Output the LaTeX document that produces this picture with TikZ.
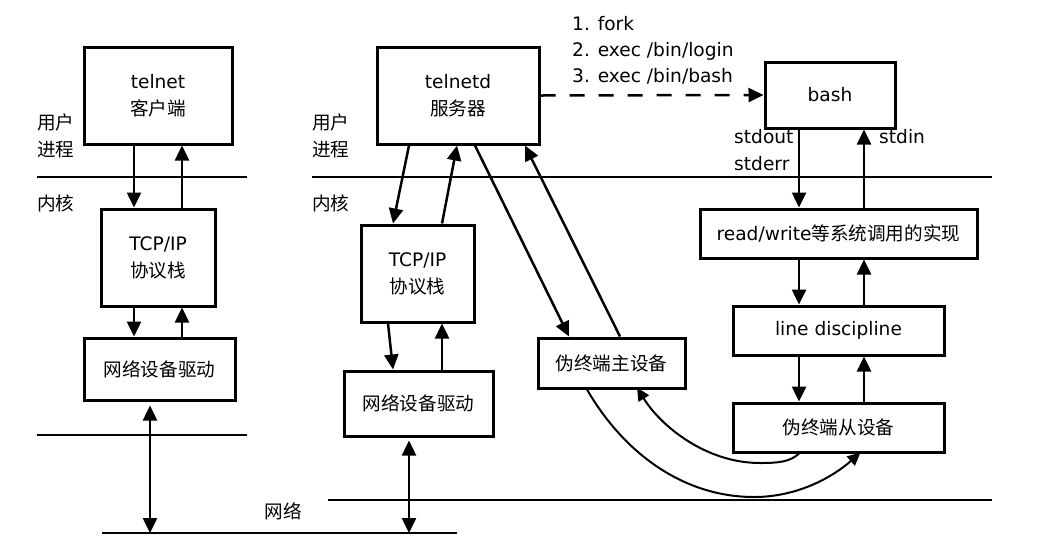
\documentclass[tikz,border=0pt]{standalone}
\usepackage{fontspec}
\setmainfont{DejaVu Sans}
\newfontfamily\cjk{Noto Sans CJK SC}
\usetikzlibrary{arrows.meta,positioning}

\begin{document}
\begin{tikzpicture}[x=1pt, y=-1pt, font=\fontsize{18.6}{27}\selectfont]
    \tikzstyle{box} = [rectangle, draw, line width=3pt, inner sep=0pt, align=center]
    \tikzstyle{lbl} = [inner sep=0pt, align=left, anchor=west]
    \tikzstyle{arr} = [-{Triangle[length=15pt, width=14pt]}, line width=2.5pt]
    \tikzstyle{darr} = [{Triangle[length=15pt, width=14pt]}-{Triangle[length=15pt, width=14pt]}, line width=2.5pt]
    \tikzstyle{curvearr} = [-{Triangle[length=13pt, width=12pt]}, line width=2pt]
    \tikzstyle{layer} = [line width=2pt]

    \useasboundingbox (0,0) rectangle (1047,550);

    % Client side
    \node[box, minimum width=148pt, minimum height=97pt] (client) at (158,95.5) {telnet\\{\cjk 客户端}};
    \node[box, minimum width=114pt, minimum height=97pt] (tcpL) at (158,257.5) {TCP/IP\\{\cjk 协议栈}};
    \node[box, minimum width=151pt, minimum height=62pt] (nicL) at (159.5,369) {\cjk 网络设备驱动};

    % Server side
    \node[box, minimum width=162pt, minimum height=97pt] (telnetd) at (458,95.5) {telnetd\\{\cjk 服务器}};
    \node[box, minimum width=113pt, minimum height=97pt] (tcpR) at (417.5,273.5) {TCP/IP\\{\cjk 协议栈}};
    \node[box, minimum width=149pt, minimum height=65pt] (nicR) at (418.5,403.5) {\cjk 网络设备驱动};
    \node[box, minimum width=147pt, minimum height=50pt] (ptm) at (611.5,363) {\cjk 伪终端主设备};

    % Shell side
    \node[box, minimum width=130pt, minimum height=66pt] (bash) at (830,95) {bash};
    \node[box, minimum width=277pt, minimum height=49pt] (rw) at (838.5,233.5) {read/write{\cjk 等系统调用的实现}};
    \node[box, minimum width=211pt, minimum height=49pt] (ldisc) at (838.5,330.5) {line discipline};
    \node[box, minimum width=211pt, minimum height=49pt] (pts) at (838.5,427.5) {\cjk 伪终端从设备};

    % Labels
    \node[lbl] (userL) at (37,135.5) {{\cjk 用户}\\{\cjk 进程}};
    \node[lbl] (kernL) at (37,203) {\cjk 内核};
    \node[lbl] (userR) at (312,135.5) {{\cjk 用户}\\{\cjk 进程}};
    \node[lbl] (kernR) at (312,203) {\cjk 内核};
    \node[inner sep=0pt] (net) at (283,511) {\cjk 网络};
    \node[lbl, font=\fontsize{18.6}{26}\selectfont] (steps) at (572,50) {1. fork\\2. exec /bin/login\\3. exec /bin/bash};
    \node[lbl] (stdout) at (734,150) {stdout\\stderr};
    \node[lbl] (stdin) at (879,137) {stdin};

    % Layers
    \coordinate (netL) at (150,533);
    \coordinate (netR) at (409,533);
    \draw[layer] (37,177) -- (247,177);
    \draw[layer] (312,177) -- (992,177);
    \draw[layer] (37,435) -- (247,435);
    \draw[layer] (328,500) -- (992,500);
    \draw[layer] (102,533) -- (457,533);

    % Connections
    \draw[arr] (134,0 |- client.south) -- (134,0 |- tcpL.north);
    \draw[arr] (182,0 |- tcpL.north) -- (182,0 |- client.south);
    \draw[arr] (134,0 |- tcpL.south) -- (134,0 |- nicL.north);
    \draw[arr] (182,0 |- nicL.north) -- (182,0 |- tcpL.south);
    \draw[darr] ([yshift=-4pt]150,0 |- nicL.south) -- (netL);

    \draw[arr] ([xshift=-49pt]telnetd.south) -- ([xshift=-24.5pt]tcpR.north);
    \draw[arr] ([xshift=24.5pt]tcpR.north) -- ([xshift=-1pt]telnetd.south);
    \draw[arr] ([xshift=-29.5pt]tcpR.south) -- ([xshift=-25.5pt]nicR.north);
    \draw[arr] (442,0 |- nicR.north) -- (442,0 |- tcpR.south);
    \draw[darr] ([yshift=-3pt]409,0 |- nicR.south) -- (netR);

    \draw[arr] ([xshift=17pt]telnetd.south) -- ([xshift=-42.5pt]ptm.north);
    \draw[arr] ([xshift=8.5pt]ptm.north) -- ([xshift=67pt]telnetd.south);
    \draw[arr, dash pattern=on 15pt off 14pt] (telnetd.east) -- (bash.west);

    \draw[arr] (799,0 |- bash.south) -- (799,0 |- rw.north);
    \draw[arr] (864,0 |- rw.north) -- (864,0 |- bash.south);
    \draw[arr] (799,0 |- rw.south) -- (799,0 |- ldisc.north);
    \draw[arr] (864,0 |- ldisc.north) -- (864,0 |- rw.south);
    \draw[arr] (799,0 |- ldisc.south) -- (799,0 |- pts.north);
    \draw[arr] (864,0 |- pts.north) -- (864,0 |- ldisc.south);

    \draw[curvearr] ([xshift=-24.5pt]ptm.south) .. controls (625,455) and (685,497) .. (754,497)
        .. controls (800,497) and (835,475) .. ([xshift=22pt, yshift=1pt]pts.south);
    \draw[curvearr] ([xshift=-39.5pt]pts.south) .. controls (790,462) and (778,463) .. (760,463)
        .. controls (705,463) and (660,425) .. ([xshift=25.5pt, yshift=2pt]ptm.south);
\end{tikzpicture}
\end{document}
